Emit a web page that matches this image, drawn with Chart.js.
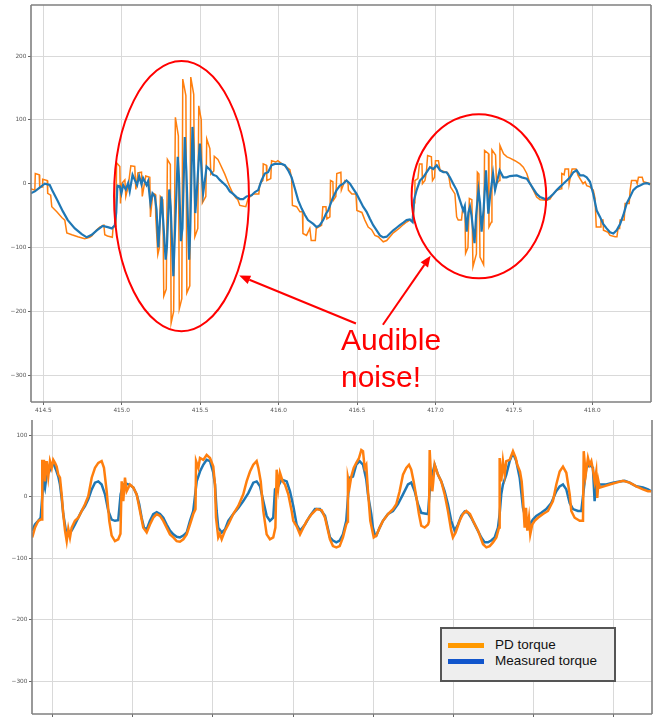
<!DOCTYPE html>
<html>
<head>
<meta charset="utf-8">
<script src="https://cdn.jsdelivr.net/npm/chart.js@4"></script>
<style>
  body { margin: 0; width: 666px; height: 719px; position: relative; background: #fff; overflow: hidden; }
  canvas { position: absolute; left: 0; }
  .note { position: absolute; left: 341px; top: 321px; font: 30px "Liberation Sans", Arial, sans-serif; line-height: 37px; color: #ff0000; }
  .legend { position: absolute; left: 440px; top: 627px; width: 176px; height: 55px; box-sizing: border-box;
            background: #eeeeee; border: 2px solid #555; }
  .swatch { position: absolute; left: 6px; width: 36px; height: 5px; }
  .legend-text { position: absolute; left: 53px; top: 8px; font: 13.5px "Liberation Sans", Arial, sans-serif; line-height: 16px; color: #111; white-space: nowrap; }
</style>
</head>
<body>
<canvas id="topChart" width="666" height="415" style="top:0"></canvas>
<canvas id="bottomChart" width="666" height="304" style="top:415px"></canvas>
<div class="note">Audible<br>noise!</div>
<div class="legend">
  <div class="swatch" style="top:14px;background:#ff9900"></div>
  <div class="swatch" style="top:30px;background:#1155cc"></div>
  <div class="legend-text">PD torque<br>Measured torque</div>
</div>
<script>
// ---- top panel (time in s, torque) ----
const topXTicks = [414.5, 415.0, 415.5, 416.0, 416.5, 417.0, 417.5, 418.0]
const topYTicks = [-300, -200, -100, 0, 100, 200]

const topMeasuredT = [
  414.420, 414.446, 414.477, 414.509, 414.541, 414.560, 414.592, 414.624, 414.656, 414.701,
  414.745, 414.777, 414.809, 414.841, 414.879, 414.911, 414.937, 414.956, 414.965, 414.972,
  414.975, 414.988, 414.998, 415.009, 415.026, 415.041, 415.051, 415.069, 415.083, 415.098,
  415.111, 415.126, 415.136, 415.158, 415.168, 415.183, 415.196, 415.211, 415.222, 415.233,
  415.243, 415.254, 415.264, 415.280, 415.288, 415.303, 415.312, 415.329, 415.339, 415.357,
  415.365, 415.377, 415.387, 415.402, 415.412, 415.430, 415.437, 415.451, 415.459, 415.469,
  415.477, 415.492, 415.498, 415.504, 415.519, 415.530, 415.541, 415.562, 415.583, 415.604,
  415.625, 415.647, 415.668, 415.689, 415.710, 415.732, 415.753, 415.774, 415.796, 415.828,
  415.849, 415.870, 415.891, 415.912, 415.933, 415.955, 415.976, 416.019, 416.040, 416.061,
  416.083, 416.104, 416.125, 416.147, 416.168, 416.187, 416.221, 416.242, 416.263, 416.284,
  416.302, 416.316, 416.344, 416.370, 416.391, 416.412, 416.433, 416.455, 416.476, 416.497,
  416.518, 416.539, 416.561, 416.582, 416.603, 416.625, 416.646, 416.667, 416.689, 416.710,
  416.731, 416.752, 416.773, 416.795, 416.816, 416.837, 416.854, 416.863, 416.880, 416.901,
  416.922, 416.944, 416.965, 416.986, 417.008, 417.029, 417.050, 417.071, 417.092, 417.113,
  417.135, 417.156, 417.177, 417.187, 417.199, 417.210, 417.220, 417.230, 417.249, 417.259,
  417.274, 417.284, 417.294, 417.307, 417.322, 417.337, 417.348, 417.367, 417.380, 417.409,
  417.432, 417.454, 417.475, 417.518, 417.550, 417.582, 417.603, 417.624, 417.645, 417.667,
  417.688, 417.709, 417.730, 417.751, 417.773, 417.794, 417.815, 417.837, 417.858, 417.879,
  417.900, 417.922, 417.943, 417.964, 417.985, 418.006, 418.028, 418.049, 418.069, 418.091,
  418.113, 418.134, 418.155, 418.177, 418.198, 418.219, 418.240, 418.261, 418.283, 418.304,
  418.325, 418.347, 418.368
]
const topMeasuredV = [
  -15, -12, -6, 0, -2, -12, -27, -43, -57, -70,
  -79, -84, -80, -73, -66, -68, -70, -65, -45, -5,
  -3, -4, -15, -2, -9, 1, -12, 14, 6, -2,
  12, -1, 9, -2, 4, -31, -15, -20, -41, -100,
  -60, -20, -57, -119, -99, -9, -36, -145, -78, 42,
  10, -90, -70, 73, 20, -119, -70, 89, 50, -46,
  -20, 43, 63, 40, -15, 5, 27, 22, 14, 12,
  6, 1, -4, -12, -16, -21, -24, -24, -20, -18,
  -13, -10, 5, 16, 18, 29, 31, 31, 29, 21,
  10, -8, -26, -39, -49, -57, -63, -68, -65, -57,
  -47, -42, -23, -10, -3, 0, 5, 0, -8, -16,
  -26, -36, -44, -55, -65, -73, -81, -84, -83, -78,
  -73, -69, -65, -61, -57, -56, -60, -26, -10, 5,
  10, 18, 26, 23, 29, 21, 18, 18, 10, 0,
  -10, -26, -42, -35, -75, -45, -36, -50, -93, -50,
  -10, -30, -75, -40, 21, -47, -20, 16, -10, 21,
  10, 10, 12, 13, 10, 8, 0, -8, -16, -21,
  -23, -25, -21, -16, -10, -5, 0, 5, 10, 18,
  21, 13, 13, 10, 3, -16, -42, -52, -63, -70,
  -76, -78, -73, -63, -49, -31, -21, -10, -5, -3,
  0, 1, -1
]

const topPdT = [
  414.420, 414.446, 414.449, 414.474, 414.477, 414.493, 414.496, 414.525, 414.528, 414.547,
  414.554, 414.586, 414.618, 414.637, 414.650, 414.682, 414.720, 414.764, 414.796, 414.809,
  414.841, 414.860, 414.886, 414.892, 414.909, 414.940, 414.945, 414.963, 414.967, 414.988,
  414.992, 414.998, 415.020, 415.026, 415.041, 415.058, 415.083, 415.090, 415.103, 415.126,
  415.131, 415.153, 415.179, 415.183, 415.198, 415.214, 415.217, 415.230, 415.240, 415.246,
  415.262, 415.268, 415.284, 415.291, 415.310, 415.315, 415.331, 415.342, 415.361, 415.367,
  415.383, 415.389, 415.409, 415.415, 415.434, 415.440, 415.459, 415.466, 415.485, 415.491,
  415.507, 415.514, 415.536, 415.542, 415.562, 415.568, 415.587, 415.590, 415.613, 415.625,
  415.657, 415.689, 415.708, 415.727, 415.740, 415.753, 415.791, 415.806, 415.838, 415.874,
  415.880, 415.900, 415.902, 415.922, 415.925, 415.950, 415.955, 415.982, 415.995, 416.021,
  416.051, 416.072, 416.083, 416.088, 416.115, 416.136, 416.152, 416.155, 416.178, 416.199,
  416.208, 416.234, 416.240, 416.274, 416.282, 416.302, 416.308, 416.327, 416.331, 416.346,
  416.349, 416.365, 416.371, 416.397, 416.400, 416.423, 416.442, 416.445, 416.467, 416.493,
  416.499, 416.531, 416.550, 416.571, 416.593, 416.614, 416.635, 416.667, 416.689, 416.710,
  416.731, 416.752, 416.773, 416.795, 416.816, 416.837, 416.856, 416.866, 416.869, 416.888,
  416.898, 416.914, 416.917, 416.933, 416.942, 416.950, 416.974, 416.981, 416.994, 417.000,
  417.019, 417.029, 417.067, 417.082, 417.096, 417.124, 417.135, 417.145, 417.166, 417.172,
  417.188, 417.192, 417.207, 417.216, 417.232, 417.239, 417.261, 417.267, 417.277, 417.284,
  417.307, 417.313, 417.338, 417.341, 417.357, 417.360, 417.383, 417.389, 417.408, 417.411,
  417.434, 417.456, 417.475, 417.507, 417.539, 417.560, 417.582, 417.603, 417.624, 417.645,
  417.667, 417.709, 417.730, 417.751, 417.775, 417.801, 417.805, 417.820, 417.826, 417.848,
  417.852, 417.864, 417.871, 417.896, 417.909, 417.941, 417.954, 417.964, 417.985, 418.006,
  418.017, 418.025, 418.049, 418.055, 418.068, 418.071, 418.100, 418.113, 418.145, 418.157,
  418.164, 418.174, 418.177, 418.203, 418.209, 418.235, 418.241, 418.250, 418.279, 418.286,
  418.294, 418.318, 418.326, 418.375
]
const topPdV = [
  -8, -10, 16, 14, -5, -5, 7, 5, -15, -18,
  -36, -44, -53, -57, -77, -80, -83, -86, -84, -82,
  -72, -68, -65, -80, -82, -84, -68, -67, 33, 27,
  -31, 0, 6, -20, -4, 28, 27, -9, 17, 18,
  -20, 12, 10, -52, -15, -17, -52, -111, -100, -20,
  -25, -176, -165, 38, 30, -218, -200, 104, 75, -196,
  -180, 164, 138, -171, -160, 167, 140, -83, -70, 122,
  100, -30, -20, 70, 55, 15, 20, 43, 38, 32,
  15, -5, -15, -22, -25, -34, -36, -23, -16, -16,
  0, 5, 31, 29, 5, 8, 36, 34, 36, 31,
  26, 22, 8, -34, -36, -44, -44, -78, -81, -70,
  -89, -89, -70, -65, -36, -36, -55, -52, 5, 3,
  -26, -20, 16, 18, -10, 5, 3, -10, -16, -16,
  -42, -45, -57, -68, -72, -81, -83, -91, -89, -83,
  -77, -73, -69, -64, -60, -57, -60, -30, 5, 8,
  31, 31, 0, 5, 18, 44, 42, 5, 10, 36,
  36, 21, 18, 16, -5, -16, -52, -57, -57, -42,
  -42, -109, -100, -23, -25, -130, -110, 18, 15, -115,
  -127, 52, 47, -68, -60, 53, 45, 0, 5, 60,
  47, 42, 40, 36, 31, 26, 16, 0, -10, -21,
  -25, -26, -24, -16, -10, -8, 16, 14, 23, 23,
  0, 16, 23, 23, 13, 0, 3, -3, -5, -10,
  -23, -68, -68, -57, -57, -73, -76, -81, -83, -83,
  -70, -70, -57, -57, -31, -31, -10, 5, 5, 0,
  10, 10, 3, 0
]

// ---- bottom panel (unlabelled time axis, torque) ----
const bottomXTicks = [0, 1, 2, 3, 4, 5, 6, 7]
const bottomYTicks = [-300, -200, -100, 0, 100]

const bottomMeasuredT = [
  -0.255, -0.221, -0.180, -0.150, -0.137, -0.117, -0.096, -0.075, -0.042, -0.012,
  0.016, 0.041, 0.070, 0.091, 0.112, 0.132, 0.162, 0.195, 0.237, 0.278,
  0.319, 0.362, 0.403, 0.444, 0.487, 0.528, 0.569, 0.611, 0.653, 0.694,
  0.736, 0.777, 0.818, 0.848, 0.881, 0.923, 0.964, 1.006, 1.048, 1.080,
  1.110, 1.139, 1.173, 1.214, 1.255, 1.298, 1.339, 1.380, 1.422, 1.464,
  1.505, 1.547, 1.588, 1.630, 1.672, 1.713, 1.754, 1.797, 1.838, 1.879,
  1.921, 1.963, 2.004, 2.025, 2.046, 2.066, 2.109, 2.150, 2.191, 2.253,
  2.316, 2.378, 2.441, 2.503, 2.545, 2.587, 2.628, 2.670, 2.711, 2.752,
  2.774, 2.815, 2.857, 2.920, 2.961, 3.002, 3.044, 3.086, 3.148, 3.210,
  3.273, 3.335, 3.398, 3.460, 3.497, 3.539, 3.581, 3.622, 3.663, 3.684,
  3.706, 3.747, 3.788, 3.830, 3.872, 3.913, 3.934, 3.975, 3.996, 4.018,
  4.038, 4.080, 4.121, 4.184, 4.246, 4.308, 4.371, 4.433, 4.474, 4.517,
  4.558, 4.599, 4.641, 4.683, 4.704, 4.745, 4.766, 4.807, 4.849, 4.891,
  4.932, 4.973, 5.016, 5.057, 5.098, 5.141, 5.182, 5.223, 5.286, 5.348,
  5.390, 5.431, 5.472, 5.515, 5.556, 5.577, 5.597, 5.618, 5.660, 5.702,
  5.743, 5.784, 5.827, 5.849, 5.868, 5.909, 5.951, 5.992, 6.034, 6.096,
  6.159, 6.221, 6.284, 6.326, 6.367, 6.409, 6.451, 6.492, 6.554, 6.596,
  6.638, 6.658, 6.700, 6.741, 6.762, 6.782, 6.825, 6.907, 6.991, 7.074,
  7.137, 7.199, 7.282, 7.365, 7.428, 7.469
]
const bottomMeasuredV = [
  -55, -45, -39, -34, -12, 25, 14, 36, 41, 52,
  52, 44, 33, 20, -2, -28, -53, -58, -55, -45,
  -34, -23, -15, -4, 12, 23, 25, 20, 4, -23,
  -37, -39, -38, 4, 20, 21, 19, 15, 4, -12,
  -34, -50, -53, -39, -28, -25, -28, -34, -45, -55,
  -61, -65, -66, -63, -58, -39, -23, 25, 41, 52,
  60, 58, 39, 20, -23, -50, -58, -53, -39, -28,
  -18, -7, 6, 23, 25, 17, -7, -31, -39, -34,
  12, 17, 28, 25, 9, -15, -45, -55, -45, -31,
  -20, -20, -31, -66, -71, -74, -71, -61, -39, -2,
  31, 33, 52, 58, 52, 28, 4, -28, -50, -61,
  -63, -50, -39, -28, -23, -12, 4, 20, 23, 9,
  -12, -26, -27, -28, 9, 41, 52, 36, 25, 9,
  -12, -39, -55, -45, -31, -24, -26, -34, -50, -66,
  -74, -74, -71, -66, -50, -28, 4, 20, 36, 58,
  71, 58, 31, 5, -18, -39, -45, -37, -31, -26,
  -20, -10, 9, 17, 20, 12, -10, -20, -23, -23,
  25, 47, 52, 47, -7, 25, 20, 20, 23, 25,
  26, 23, 17, 15, 12, 9
]

const bottomPdT = [
  -0.255, -0.221, -0.180, -0.150, -0.133, -0.130, -0.108, -0.096, -0.075, -0.055,
  -0.034, -0.012, 0.007, 0.029, 0.050, 0.070, 0.091, 0.112, 0.132, 0.154,
  0.175, 0.195, 0.216, 0.237, 0.278, 0.319, 0.362, 0.403, 0.444, 0.487,
  0.528, 0.569, 0.611, 0.640, 0.674, 0.706, 0.736, 0.777, 0.818, 0.846,
  0.861, 0.881, 0.902, 0.923, 0.964, 1.006, 1.048, 1.089, 1.130, 1.173,
  1.214, 1.255, 1.298, 1.339, 1.380, 1.422, 1.464, 1.505, 1.547, 1.588,
  1.630, 1.672, 1.713, 1.754, 1.782, 1.789, 1.818, 1.838, 1.879, 1.921,
  1.963, 2.004, 2.025, 2.038, 2.066, 2.087, 2.109, 2.150, 2.191, 2.253,
  2.316, 2.378, 2.420, 2.462, 2.503, 2.545, 2.566, 2.596, 2.628, 2.670,
  2.711, 2.752, 2.779, 2.795, 2.815, 2.836, 2.870, 2.899, 2.940, 2.982,
  3.002, 3.044, 3.086, 3.127, 3.170, 3.232, 3.294, 3.357, 3.398, 3.460,
  3.497, 3.539, 3.581, 3.622, 3.663, 3.682, 3.684, 3.706, 3.726, 3.756,
  3.788, 3.822, 3.851, 3.872, 3.893, 3.913, 3.934, 3.963, 4.006, 4.038,
  4.080, 4.121, 4.184, 4.246, 4.287, 4.329, 4.371, 4.412, 4.446, 4.474,
  4.504, 4.537, 4.570, 4.599, 4.641, 4.683, 4.695, 4.704, 4.720, 4.737,
  4.749, 4.766, 4.807, 4.849, 4.891, 4.932, 4.973, 4.994, 5.028, 5.078,
  5.119, 5.161, 5.207, 5.245, 5.307, 5.370, 5.411, 5.453, 5.494, 5.536,
  5.569, 5.577, 5.597, 5.618, 5.640, 5.660, 5.702, 5.743, 5.777, 5.797,
  5.831, 5.852, 5.868, 5.889, 5.906, 5.922, 5.943, 5.959, 5.984, 6.014,
  6.055, 6.118, 6.180, 6.242, 6.284, 6.326, 6.367, 6.409, 6.451, 6.471,
  6.513, 6.576, 6.617, 6.626, 6.651, 6.679, 6.700, 6.721, 6.741, 6.762,
  6.782, 6.795, 6.810, 6.825, 6.878, 6.950, 7.033, 7.116, 7.199, 7.282,
  7.365, 7.428, 7.469
]
const bottomPdV = [
  -66, -50, -39, -37, -37, 58, 58, 25, 58, 33,
  58, 47, 60, 55, 49, 36, 31, 4, -28, -55,
  -72, -52, -66, -50, -39, -34, -23, -12, 1, 31,
  47, 55, 58, 47, 9, -39, -63, -72, -69, -60,
  25, -7, 31, 9, 20, 15, 4, -23, -50, -58,
  -45, -34, -28, -31, -39, -50, -61, -66, -72, -73,
  -69, -61, -45, -28, -20, 58, 47, 63, 60, 68,
  63, 49, 20, -34, -66, -60, -69, -55, -45, -28,
  -15, 4, 25, 41, 52, 58, 47, 25, -23, -61,
  -69, -66, -50, 44, 15, 39, 25, 20, 4, -23,
  -39, -48, -61, -50, -39, -28, -20, -22, -34, -69,
  -80, -82, -80, -66, -45, -40, 31, 17, 33, 47,
  55, 63, 76, 74, 47, 52, 9, -39, -66, -63,
  -50, -39, -28, -20, -12, 9, 36, 47, 52, 44,
  25, 0, -28, -47, -50, -45, -40, 76, 36, 9,
  25, 52, 36, 25, 4, -23, -55, -66, -58, -39,
  -28, -23, -28, -39, -55, -77, -82, -80, -74, -66,
  -50, 63, 25, 58, 36, 58, 60, 74, 63, 52,
  41, 25, -2, -50, -18, -55, -34, -61, -45, -39,
  -34, -28, -23, -7, 20, 41, 49, 39, 4, -23,
  -34, -39, -39, 74, 36, 63, 52, 58, 44, 25,
  41, -2, 25, 15, 17, 20, 23, 26, 23, 17,
  12, 9, 9
]

function toPoints(t, v) {
    return t.map((x, i) => ({ x: x, y: v[i] }))
}

function minusLabel(v) {
    return v < 0 ? '\u2212' + Math.abs(v) : String(v)
}

// spines drawn over the lines, like matplotlib
const framePlugin = {
    id: 'frame',
    afterDatasetsDraw(chart, args, opts) {
        const ctx = chart.ctx
        const a = chart.chartArea
        ctx.save()
        ctx.strokeStyle = '#808080'
        ctx.lineWidth = 1.6
        ctx.beginPath()
        if (opts.top) { ctx.moveTo(a.left, a.top); ctx.lineTo(a.right, a.top) }
        ctx.moveTo(a.left, a.top); ctx.lineTo(a.left, a.bottom)
        ctx.moveTo(a.right, a.top); ctx.lineTo(a.right, a.bottom)
        ctx.moveTo(a.left, a.bottom); ctx.lineTo(a.right, a.bottom)
        ctx.stroke()
        ctx.restore()
    }
}

// red circles and arrows, placed in data coordinates
const markupPlugin = {
    id: 'markup',
    afterDraw(chart, args, opts) {
        if (!opts.ellipses) return
        const ctx = chart.ctx
        const xs = chart.scales.x
        const ys = chart.scales.y
        ctx.save()
        ctx.strokeStyle = '#ff0000'
        ctx.fillStyle = '#ff0000'
        ctx.lineWidth = 2
        opts.ellipses.forEach(e => {
            const cx = xs.getPixelForValue(e.x)
            const cy = ys.getPixelForValue(e.y)
            const rx = Math.abs(xs.getPixelForValue(e.x + e.rx) - cx)
            const ry = Math.abs(ys.getPixelForValue(e.y + e.ry) - cy)
            ctx.beginPath()
            ctx.ellipse(cx, cy, rx, ry, 0, 0, Math.PI * 2)
            ctx.stroke()
        })
        opts.arrows.forEach(a => {
            const x0 = xs.getPixelForValue(a.from[0]), y0 = ys.getPixelForValue(a.from[1])
            const x1 = xs.getPixelForValue(a.to[0]), y1 = ys.getPixelForValue(a.to[1])
            const ang = Math.atan2(y1 - y0, x1 - x0)
            const len = 11, half = 4.5
            const bx = x1 - len * Math.cos(ang), by = y1 - len * Math.sin(ang)
            ctx.beginPath()
            ctx.moveTo(x0, y0)
            ctx.lineTo(bx, by)
            ctx.stroke()
            ctx.beginPath()
            ctx.moveTo(x1, y1)
            ctx.lineTo(bx + half * Math.sin(ang), by - half * Math.cos(ang))
            ctx.lineTo(bx - half * Math.sin(ang), by + half * Math.cos(ang))
            ctx.closePath()
            ctx.fill()
        })
        ctx.restore()
    }
}

const tickFont = { family: 'DejaVu Sans', size: 5.8 }

function axes(xMin, xMax, xTicks, yMin, yMax, yTicks, showXLabels, xHeight) {
    return {
        x: {
            type: 'linear', min: xMin, max: xMax,
            afterBuildTicks: s => { s.ticks = xTicks.map(v => ({ value: v })) },
            afterFit: s => { s.height = xHeight },
            grid: { color: '#d9d9d9', lineWidth: 1, tickLength: 3, tickColor: '#666' },
            border: { display: false },
            ticks: {
                font: tickFont, color: '#555', padding: 2, maxRotation: 0, autoSkip: false,
                callback: v => showXLabels ? v.toFixed(1) : ''
            }
        },
        y: {
            min: yMin, max: yMax,
            afterBuildTicks: s => { s.ticks = yTicks.map(v => ({ value: v })) },
            afterFit: s => { s.width = 31 },
            grid: { color: '#d9d9d9', lineWidth: 1, tickLength: 3, tickColor: '#666' },
            border: { display: false },
            ticks: { font: tickFont, color: '#555', padding: 1.5, callback: minusLabel }
        }
    }
}

const common = {
    responsive: false,
    animation: false,
    devicePixelRatio: 1,
    elements: { point: { radius: 0 }, line: { tension: 0 } }
}

window.onload = () => {
    new Chart(document.getElementById('topChart'), {
        type: 'line',
        data: {
            datasets: [
                { label: 'Measured torque', data: toPoints(topMeasuredT, topMeasuredV),
                  borderColor: '#1f77b4', borderWidth: 2.2, order: 0 },
                { label: 'PD torque', data: toPoints(topPdT, topPdV),
                  borderColor: '#ff7f0e', borderWidth: 1.5, order: 1 }
            ]
        },
        options: Object.assign({}, common, {
            layout: { padding: { top: 5, right: 15, left: 0, bottom: 0 } },
            scales: axes(414.4216, 418.374, topXTicks, -342, 280, topYTicks, true, 13),
            plugins: {
                legend: { display: false }, tooltip: { enabled: false },
                frame: { top: true },
                markup: {
                    ellipses: [
                        { x: 415.381, y: -19.5, rx: 0.430, ry: 211.7 },
                        { x: 417.277, y: -19.7, rx: 0.429, ry: 128.6 }
                    ],
                    arrows: [
                        { from: [416.493, -219], to: [415.749, -144] },
                        { from: [416.665, -221], to: [416.969, -113] }
                    ]
                }
            }
        }),
        plugins: [framePlugin, markupPlugin]
    })

    new Chart(document.getElementById('bottomChart'), {
        type: 'line',
        data: {
            datasets: [
                { label: 'PD torque', data: toPoints(bottomPdT, bottomPdV),
                  borderColor: '#ff7f0e', borderWidth: 2.5, order: 0 },
                { label: 'Measured torque', data: toPoints(bottomMeasuredT, bottomMeasuredV),
                  borderColor: '#1f77b4', borderWidth: 2.5, order: 1 }
            ]
        },
        options: Object.assign({}, common, {
            layout: { padding: { top: 5, right: 14, left: 1, bottom: 0 } },
            scales: axes(-0.258, 7.478, bottomXTicks, -352.7, 124.7, bottomYTicks, false, 3),
            plugins: {
                legend: { display: false }, tooltip: { enabled: false },
                frame: { top: false }
            }
        }),
        plugins: [framePlugin, markupPlugin]
    })
}
</script>
</body>
</html>
